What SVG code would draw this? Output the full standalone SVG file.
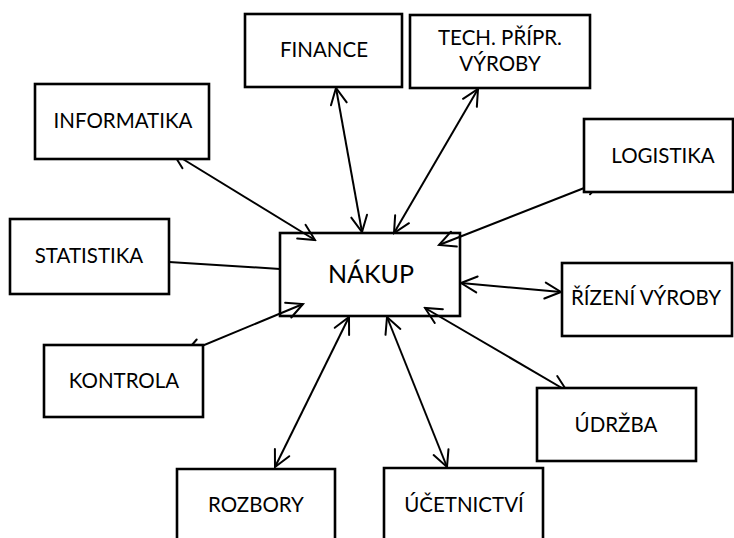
<svg xmlns="http://www.w3.org/2000/svg" width="734" height="538" viewBox="0 0 734 538">
<style>
.box{fill:#fff;stroke:#000;stroke-width:2.6}
.lbl{font-family:Lato,"Noto Sans",sans-serif;font-size:20.5px;fill:#000;text-anchor:middle}
.big{font-size:25px}
.c{stroke:#000;stroke-width:2;fill:none}
.a{marker-start:url(#ah);marker-end:url(#ah)}
</style>
<defs>
<marker id="ah" viewBox="-18 -10 20 20" refX="0" refY="0" markerWidth="20" markerHeight="20" markerUnits="userSpaceOnUse" orient="auto-start-reverse">
<path d="M-16,-8 L0,0 L-16,8" fill="none" stroke="#000" stroke-width="2" stroke-linecap="round"/>
</marker>
</defs>
<rect width="734" height="538" fill="#fff"/>
<g id="nakup">
<rect class="box" x="280" y="233" width="180" height="83"/>
<text class="lbl big" x="371" y="283">NÁKUP</text>
</g>
<g id="connectors">
<line class="c a" x1="173" y1="153" x2="315" y2="240"/>
<line class="c a" x1="336" y1="88" x2="362" y2="232"/>
<line class="c a" x1="478" y1="89" x2="394" y2="233"/>
<line class="c a" x1="602" y1="181" x2="439" y2="245"/>
<line class="c" x1="169" y1="262" x2="280" y2="269"/>
<line class="c a" x1="185" y1="353" x2="303" y2="304"/>
<line class="c a" x1="349" y1="317" x2="275" y2="467"/>
<line class="c a" x1="387" y1="317" x2="447" y2="467"/>
<line class="c a" x1="425" y1="308" x2="567" y2="391"/>
<line class="c a" x1="461" y1="283" x2="561" y2="292"/>
</g>
<g id="finance">
<rect class="box" x="245" y="14" width="157" height="73"/>
<text class="lbl" x="324" y="57">FINANCE</text>
</g>
<g id="tech">
<rect class="box" x="410" y="15" width="180" height="73"/>
<text class="lbl" x="500" y="45">TECH. PŘÍPR.</text>
<text class="lbl" x="500" y="71">VÝROBY</text>
</g>
<g id="informatika">
<rect class="box" x="35" y="84" width="174" height="75"/>
<text class="lbl" x="123" y="128">INFORMATIKA</text>
</g>
<g id="statistika">
<rect class="box" x="10" y="219" width="159" height="75"/>
<text class="lbl" x="89" y="263">STATISTIKA</text>
</g>
<g id="logistika">
<rect class="box" x="584" y="119" width="149" height="73"/>
<text class="lbl" x="663" y="163">LOGISTIKA</text>
</g>
<g id="rizeni">
<rect class="box" x="562" y="263" width="170" height="73"/>
<text class="lbl" x="646" y="305">ŘÍZENÍ VÝROBY</text>
</g>
<g id="kontrola">
<rect class="box" x="44" y="345" width="159" height="72"/>
<text class="lbl" x="124" y="388">KONTROLA</text>
</g>
<g id="udrzba">
<rect class="box" x="537" y="388" width="159" height="73"/>
<text class="lbl" x="616" y="432">ÚDRŽBA</text>
</g>
<g id="rozbory">
<path class="box" d="M177,545 V469 H335 V545"/>
<text class="lbl" x="256" y="512">ROZBORY</text>
</g>
<g id="ucetnictvi">
<path class="box" d="M384,545 V468 H543 V545"/>
<text class="lbl" x="464" y="512">ÚČETNICTVÍ</text>
</g>
</svg>
